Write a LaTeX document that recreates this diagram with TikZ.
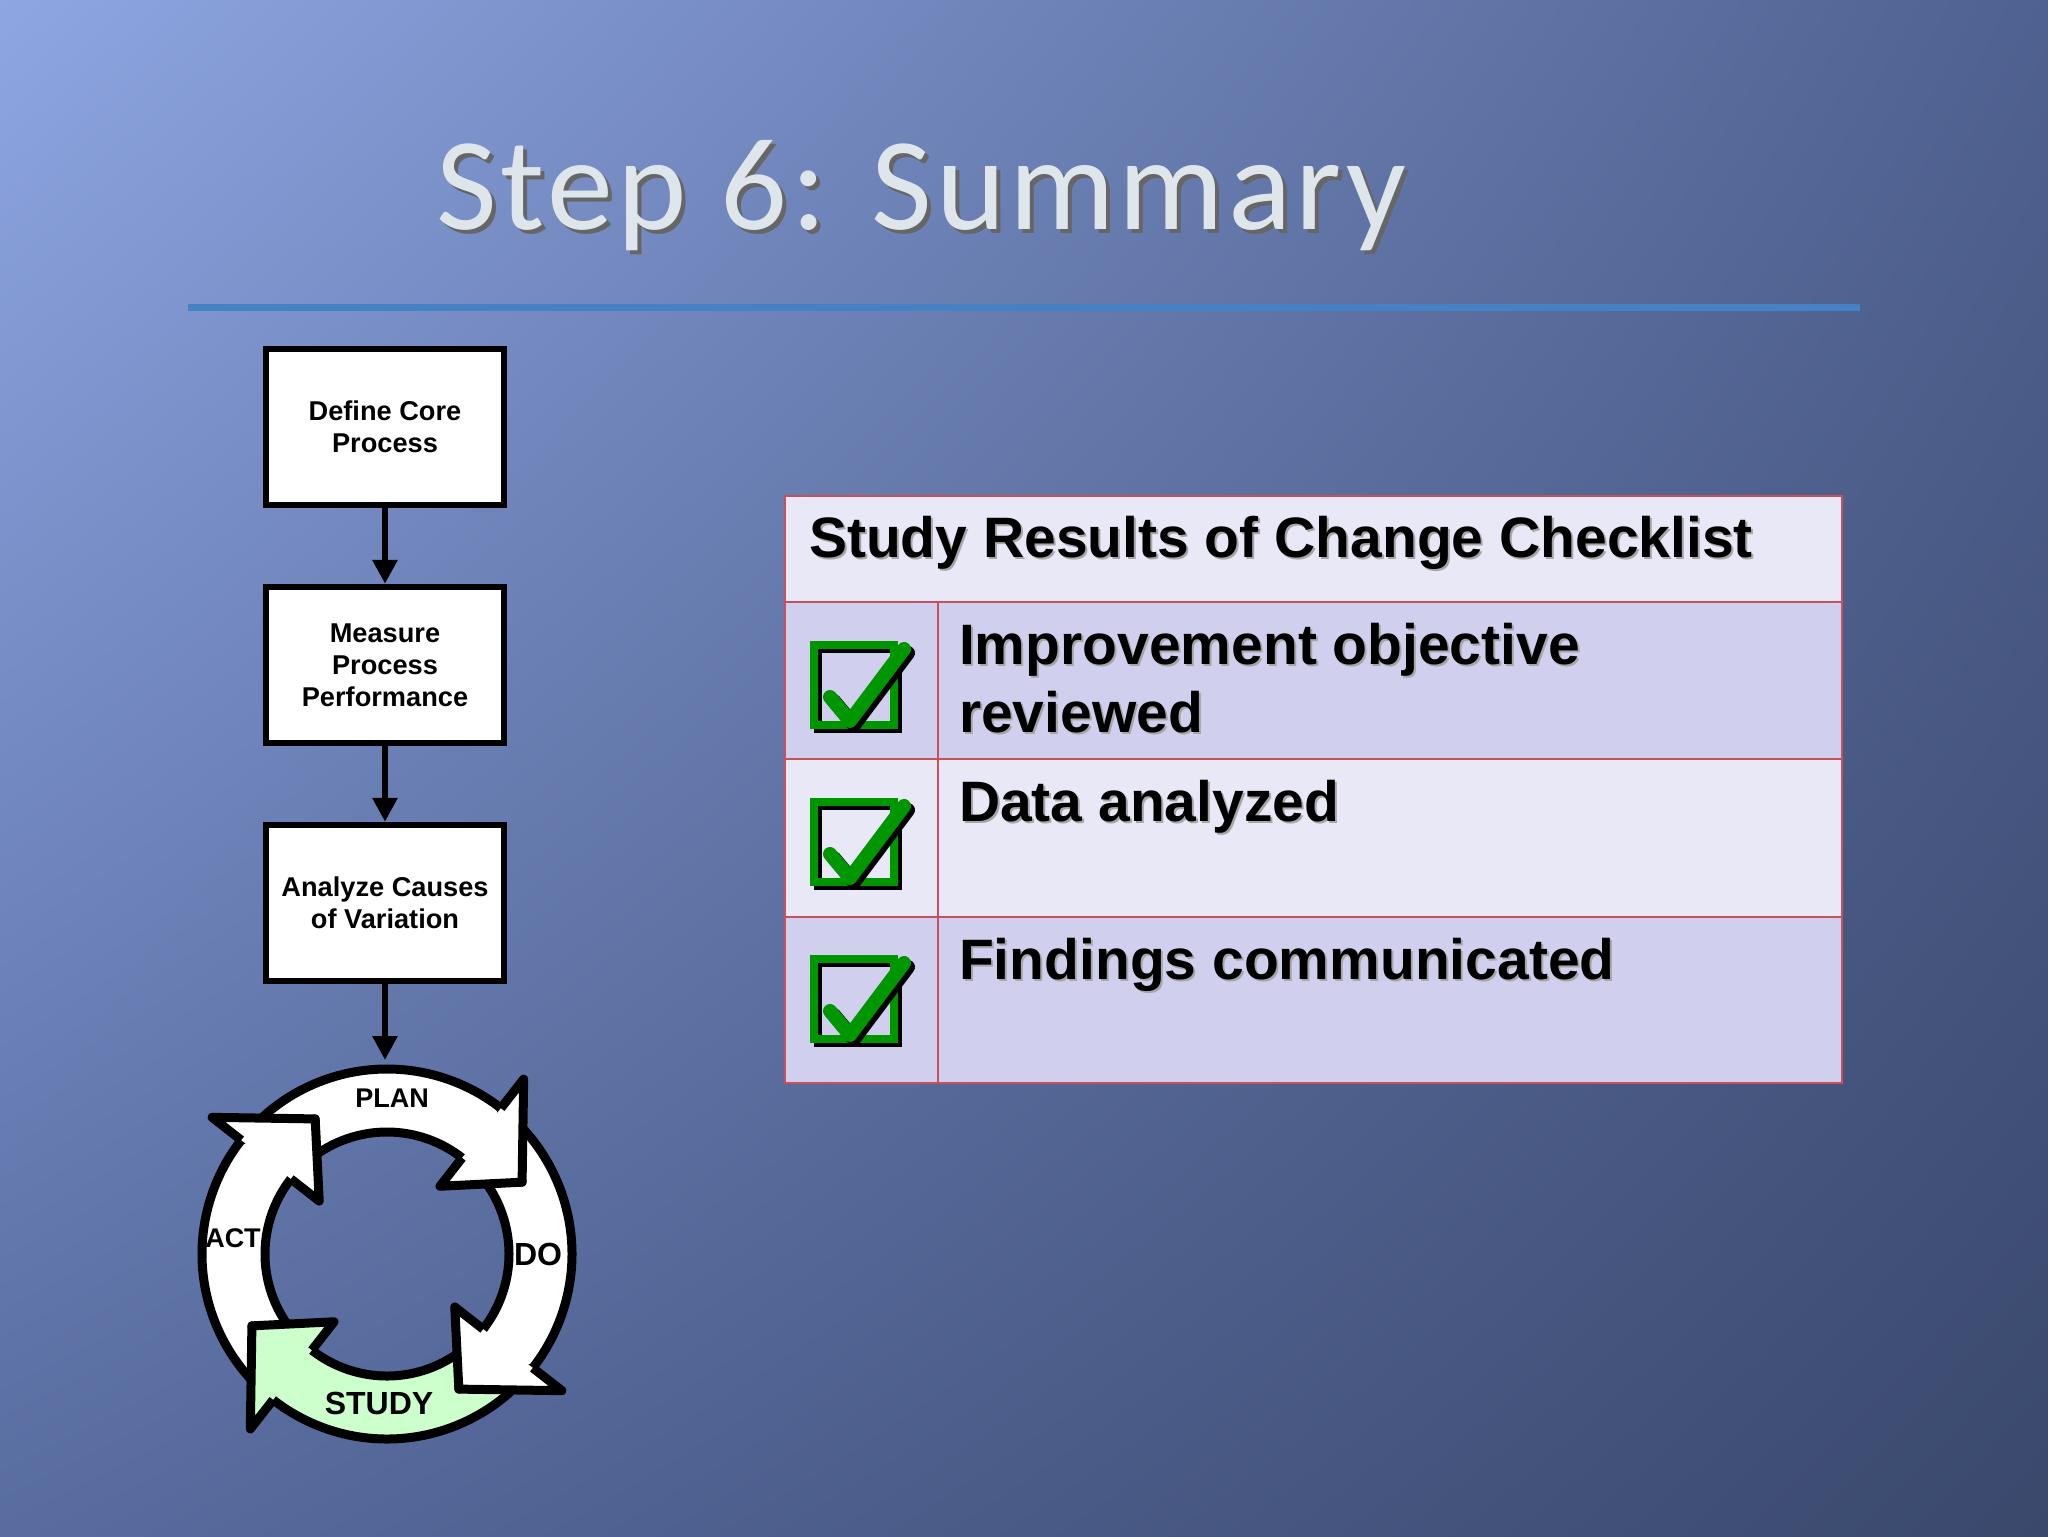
\documentclass[tikz,border=0pt]{standalone}
\usepackage{fontspec}
\setmainfont{Liberation Sans}
\newfontfamily\titlefont[LetterSpace=3]{Carlito}
\usetikzlibrary{arrows.meta,shadings,calc}
\definecolor{bgA}{RGB}{142,166,226}
\definecolor{bgB}{RGB}{88,108,160}
\definecolor{bgC}{RGB}{58,72,108}
\definecolor{rowA}{RGB}{232,232,246}
\definecolor{rowB}{RGB}{208,208,238}
\definecolor{tabline}{RGB}{200,80,90}
\definecolor{chk}{RGB}{0,150,0}
\definecolor{studygreen}{RGB}{204,255,204}
\definecolor{rule}{RGB}{70,130,195}
\tikzset{
  x=0.5pt,y=-0.5pt,
  procbox/.style={draw=black,line width=3.2pt,fill=white,minimum width=119pt,minimum height=78pt,align=center,font=\bfseries\fontsize{13.6}{16}\selectfont,inner sep=2pt},
  flowarrow/.style={-{Triangle[length=12pt,width=12pt]},line width=3pt},
  cyc/.style={line width=4.5pt,line join=round,draw=black},
  cyclabel/.style={font=\bfseries\fontsize{13.5}{16}\selectfont},
  hdr/.style={font=\bfseries\fontsize{28.5}{34}\selectfont,anchor=west},
  item/.style={font=\bfseries\fontsize{28.5}{34}\selectfont,anchor=north west,align=left},
}
\newcommand{\shadowtext}[4]{% pos, style, text
  \node[#2,text=gray!70] at ($(#1)+(2,2)$) {#3};
  \node[#2] (#4) at (#1) {#3};}
\newcommand{\checkbox}[3]{% x y name
  \begin{scope}[shift={(#1,#2)}]
   \draw[black,line width=4pt] (4,4) rectangle (84,84);
   \draw[chk,line width=4pt] (0,0) rectangle (80,80);
   \draw[black,line width=7pt,line cap=round,line join=round] (20,56) -- (40,80) -- (94,8);
   \draw[chk,line width=7pt,line cap=round,line join=round] (16,52) -- (36,76) -- (90,4);
   \coordinate (#3) at (40,40);
  \end{scope}}
% tail s, base b, tip t, fill
\newcommand{\cycbody}[4]{%
  \filldraw[cyc,fill=#4] (#1:185) arc[start angle=#1,end angle=#2+3,radius=185] -- (#2+3:122) arc[start angle=#2+3,end angle=#1,radius=122] -- (#1+24:153) -- cycle;}
\newcommand{\cychead}[4]{%
  \fill[#4] (#2:222) -- (#3:153) -- (#2:86) -- cycle;
  \draw[cyc] (#2:185) -- (#2:222) -- (#3:153) -- (#2:86) -- (#2:122);}
\begin{document}
\begin{tikzpicture}
\useasboundingbox (0,0) rectangle (2048,1536);
\shade[upper left=bgA,upper right=bgB!90!black,lower left=bgB,lower right=bgC] (0,0) rectangle (2048,1536);
\node[text=black!60,font=\titlefont\fontsize{66}{74}\selectfont] at (925,200) {Step 6: Summary};
\node[text={rgb,255:red,222;green,230;blue,236},font=\titlefont\fontsize{66}{74}\selectfont] (title) at (921,196) {Step 6: Summary};
\draw[rule,line width=3.5pt] (188,307) coordinate (r1) -- (1860,307) coordinate (r2);
\node[procbox] (b1) at (385,427) {Define Core\\Process};
\node[procbox] (b2) at (385,665) {Measure\\Process\\Performance};
\node[procbox] (b3) at (385,903) {Analyze Causes\\of Variation};
\coordinate (ctop) at (385,1060);
\draw[flowarrow] (b1) -- (b2);
\draw[flowarrow] (b2) -- (b3);
\draw[flowarrow] (b3) -- (ctop);
\begin{scope}[shift={(387,1254)}]
 \cycbody{128}{218}{242}{white}
 \cycbody{218}{308}{332}{white}
 \cycbody{308}{398}{422}{white}
 \cycbody{38}{128}{152}{studygreen}
 \cychead{128}{218}{242}{white}
 \cychead{218}{308}{332}{white}
 \cychead{308}{398}{422}{white}
 \cychead{38}{128}{152}{studygreen}
\end{scope}
\node[cyclabel] (plan) at (392,1098) {PLAN};
\node[cyclabel] (act) at (233,1238) {ACT};
\node[cyclabel,font=\bfseries\fontsize{16}{18}\selectfont] (do) at (538,1254) {DO};
\node[cyclabel,font=\bfseries\fontsize{16}{18}\selectfont] (study) at (379,1403) {STUDY};
\fill[rowA] (785,496) rectangle (1842,602);
\fill[rowB] (785,602) rectangle (1842,759);
\fill[rowA] (785,759) rectangle (1842,917);
\fill[rowB] (785,917) rectangle (1842,1083);
\draw[tabline,line width=0.8pt] (785,496) rectangle (1842,1083);
\draw[tabline,line width=0.6pt] (785,602) -- (1842,602) (785,759) -- (1842,759) (785,917) -- (1842,917) (938,602) -- (938,1083);
\shadowtext{802,543}{hdr}{Study Results of Change Checklist}{th}
\shadowtext{952,616}{item}{Improvement objective\\reviewed}{t1}
\shadowtext{952,773}{item}{Data analyzed}{t2}
\shadowtext{952,931}{item}{Findings communicated}{t3}
\checkbox{814}{645}{c1}
\checkbox{814}{802}{c2}
\checkbox{814}{959}{c3}
\end{tikzpicture}
\end{document}
